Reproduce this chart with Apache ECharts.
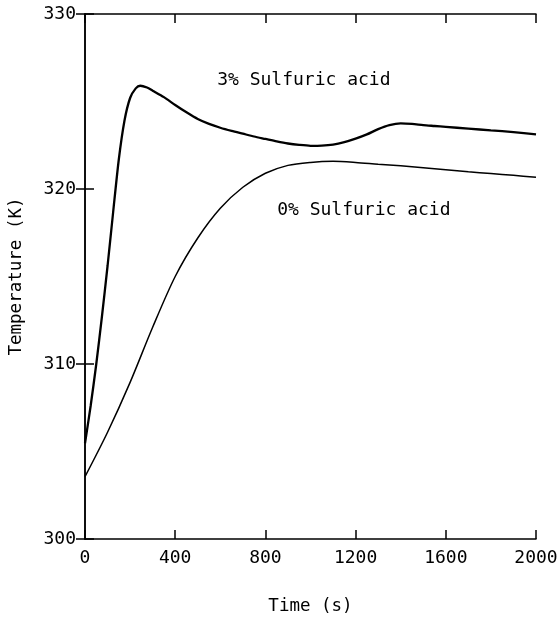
<!DOCTYPE html>
<html>
<head>
<meta charset="utf-8">
<script src="https://cdn.jsdelivr.net/npm/echarts@6/dist/echarts.min.js"></script>
<style>html,body{margin:0;padding:0;background:#fff}#c{width:559px;height:618px}</style>
</head>
<body>
<div id="c"></div>
<script>
// Time (s) and temperature (K) for the 3% sulfuric acid run
var time3 = [0, 25, 50, 75, 100, 125, 150, 175, 200, 225, 245, 275, 300, 350, 400, 450, 500, 550, 600, 650, 700, 750, 800, 850, 900, 950, 1000, 1050, 1100, 1150, 1200, 1250, 1300, 1350, 1400, 1450, 1500, 1550, 1600, 1700, 1800, 1900, 2000];
var temp3 = [305.47, 307.6, 310.0, 312.7, 315.6, 318.7, 321.7, 323.9, 325.2, 325.75, 325.9, 325.8, 325.62, 325.25, 324.8, 324.38, 324.0, 323.72, 323.5, 323.32, 323.16, 323.0, 322.86, 322.72, 322.6, 322.52, 322.47, 322.48, 322.54, 322.68, 322.88, 323.12, 323.42, 323.65, 323.75, 323.72, 323.65, 323.6, 323.55, 323.45, 323.35, 323.25, 323.12];
// Time (s) and temperature (K) for the 0% sulfuric acid run
var time0 = [0, 100, 200, 300, 400, 500, 600, 700, 800, 900, 1000, 1100, 1200, 1300, 1400, 1500, 1600, 1700, 1800, 1900, 2000];
var temp0 = [303.56, 306.1, 308.95, 312.1, 315.0, 317.2, 318.9, 320.1, 320.9, 321.35, 321.52, 321.58, 321.52, 321.42, 321.33, 321.22, 321.1, 320.98, 320.88, 320.78, 320.67];
var xTicks = [0, 400, 800, 1200, 1600, 2000];
var yTicks = [300, 310, 320, 330];
var label3 = '3% Sulfuric acid';
var label0 = '0% Sulfuric acid';
var label3Pos = [586, 326.2];
var label0Pos = [852, 318.76];

function pairs(xs, ys) { return xs.map(function (x, i) { return [x, ys[i]]; }); }

var mono = 'DejaVu Sans Mono';
var axisLine = { show: true, lineStyle: { color: '#000', width: 1.5 } };
var tick = { show: true, inside: true, length: 9, lineStyle: { color: '#000', width: 1.5 } };

var chart = echarts.init(document.getElementById('c'), null, { renderer: 'canvas' });
chart.setOption({
  animation: false,
  backgroundColor: '#fff',
  grid: { left: 85, right: 23, top: 14, bottom: 79, containLabel: false, outerBoundsMode: 'none' },
  xAxis: [{
    type: 'value', min: xTicks[0], max: xTicks[xTicks.length - 1], interval: 400,
    position: 'bottom',
    name: 'Time (s)', nameLocation: 'middle', nameGap: 58,
    nameTextStyle: { fontFamily: mono, fontSize: 17.5, color: '#000' },
    axisLine: axisLine, axisTick: tick, splitLine: { show: false },
    axisLabel: { fontFamily: mono, fontSize: 18, color: '#000', margin: 10,
      formatter: function (v) { return String(v); } }
  }, {
    type: 'value', min: xTicks[0], max: xTicks[xTicks.length - 1], interval: 400,
    position: 'top', axisLine: axisLine, axisTick: tick, splitLine: { show: false },
    axisLabel: { show: false }
  }],
  yAxis: [{
    type: 'value', min: yTicks[0], max: yTicks[yTicks.length - 1], interval: 10,
    position: 'left',
    name: 'Temperature (K)', nameLocation: 'middle', nameGap: 60,
    nameTextStyle: { fontFamily: mono, fontSize: 17.5, color: '#000' },
    axisLine: axisLine, axisTick: tick, splitLine: { show: false },
    axisLabel: { fontFamily: mono, fontSize: 18, color: '#000', margin: 9 }
  }, {
    type: 'value', min: yTicks[0], max: yTicks[yTicks.length - 1], interval: 10,
    position: 'right', axisLine: axisLine, axisTick: tick, splitLine: { show: false },
    axisLabel: { show: false }
  }],
  series: [{
    name: label3, type: 'line', data: pairs(time3, temp3), smooth: 0.25,
    showSymbol: false, lineStyle: { color: '#000', width: 2.3 },
    markPoint: {
      symbol: 'circle', symbolSize: 0,
      label: { show: true, position: 'right', distance: 0, formatter: label3,
        fontFamily: mono, fontSize: 18, color: '#000' },
      data: [{ coord: label3Pos }]
    }
  }, {
    name: label0, type: 'line', data: pairs(time0, temp0), smooth: 0.3,
    showSymbol: false, lineStyle: { color: '#000', width: 1.5 },
    markPoint: {
      symbol: 'circle', symbolSize: 0,
      label: { show: true, position: 'right', distance: 0, formatter: label0,
        fontFamily: mono, fontSize: 18, color: '#000' },
      data: [{ coord: label0Pos }]
    }
  }]
});
</script>
</body>
</html>
